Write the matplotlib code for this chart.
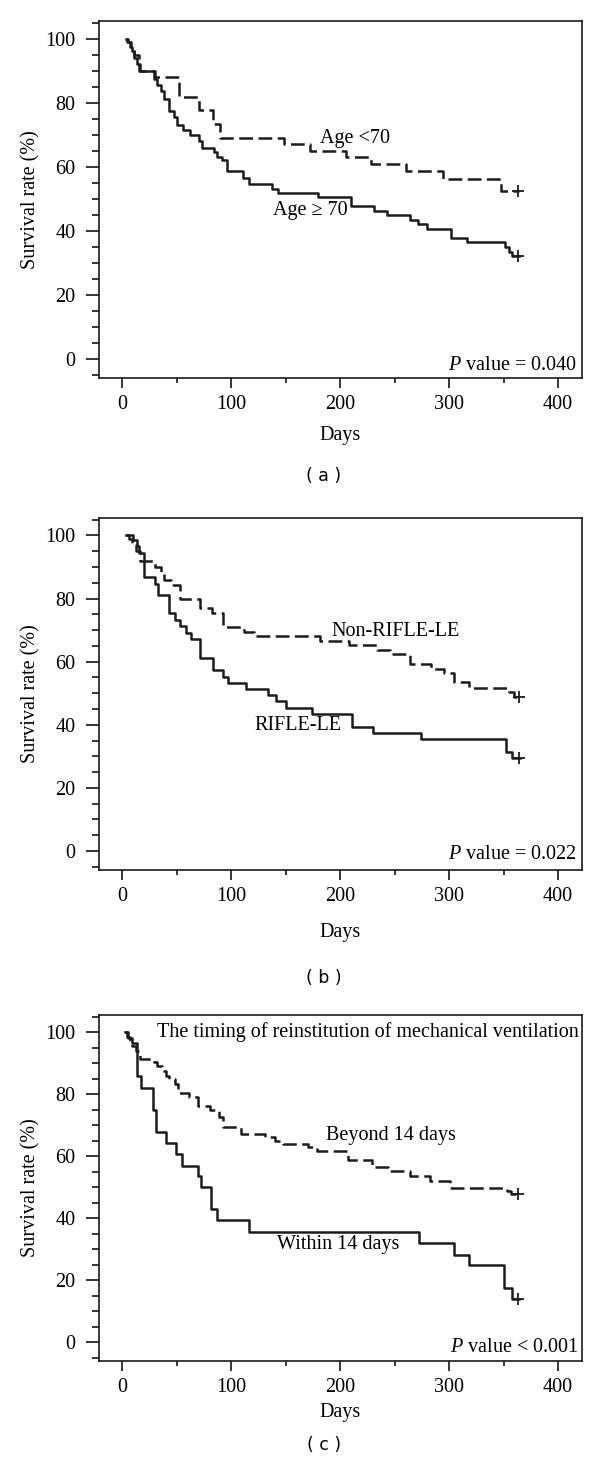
import matplotlib
matplotlib.use("Agg")
import matplotlib.pyplot as plt
from matplotlib.ticker import MultipleLocator

plt.rcParams['font.family'] = ['Liberation Serif', 'DejaVu Serif']
plt.rcParams['mathtext.fontset'] = 'custom'
plt.rcParams['mathtext.rm'] = 'Liberation Serif'
plt.rcParams['mathtext.it'] = 'Liberation Serif:italic'

# ---- data ----
# panel (a)
age_young_days = [3, 5, 8, 11, 15, 30, 52, 70, 83, 90, 148, 172, 205, 228, 260, 294, 348]
age_young_surv = [100, 99, 97, 95, 90, 88, 81.7, 77.6, 73.4, 69.1, 67.1, 65, 63, 60.8, 58.7, 56.3, 52.4]
age_old_days = [3, 4, 7, 9, 11, 13, 16, 29, 32, 35, 38, 43, 47, 50, 56, 62, 70, 73, 84, 87, 91, 96,
                111, 116, 137, 143, 180, 210, 231, 243, 264, 271, 280, 302, 316, 351, 355, 358]
age_old_surv = [100, 99, 97.5, 96, 94, 92, 90, 87.5, 85.5, 83.5, 81, 77.5, 75.5, 73, 71.5, 70, 68, 65.8,
                64.6, 63, 62, 58.8, 56.6, 54.5, 53, 51.8, 50.4, 47.6, 46.1, 44.8, 43.2, 42, 40.4, 37.8,
                36.6, 34.9, 33.3, 32]
end_a = 364

# panel (b)
nonrifle_days = [3, 6, 9, 12, 16, 30, 35, 38, 45, 53, 71, 82, 92, 112, 121, 181, 208, 234, 246, 264,
                 283, 295, 304, 318, 355, 360]
nonrifle_surv = [100, 99, 97, 95, 92, 90, 88, 86, 84.2, 80, 77, 75.5, 71, 69.5, 68, 66.6, 65.2, 63.7,
                 62.3, 59.4, 57.8, 56.3, 53.4, 51.8, 50.4, 48.8]
rifle_days = [3, 10, 13, 15, 20, 30, 33, 43, 48, 53, 58, 63, 71, 83, 92, 97, 113, 134, 141, 150, 174,
              211, 230, 274, 352, 358]
rifle_surv = [100, 98.6, 96.5, 94.5, 86.8, 84.7, 81, 75.3, 73.3, 71.3, 69.2, 67.1, 61.2, 57.3, 55.2,
              53.3, 51.3, 49.3, 47.4, 45.4, 43.4, 39.4, 37.3, 35.4, 31.4, 29.6]
end_b = 365

# panel (c)
beyond_days = [2, 4, 7, 9, 12, 16, 29, 32, 36, 40, 43, 48, 51, 61, 69, 80, 89, 92, 109, 131, 140, 147,
               170, 179, 207, 229, 244, 264, 282, 301, 353, 357]
beyond_surv = [100, 98.5, 97, 95.5, 94, 91.4, 90.5, 89, 87.5, 86, 85, 83.3, 80.5, 79.2, 76.1, 74.8,
               72.5, 69.5, 67.3, 66.3, 65, 64, 63, 61.8, 58.8, 56.6, 55.3, 53.6, 52.1, 49.9, 48.7, 47.8]
within_days = [2, 5, 9, 13, 17, 28, 31, 40, 49, 55, 69, 72, 81, 87, 116, 272, 304, 318, 350, 358]
within_surv = [100, 98, 96.5, 85.7, 82, 75, 67.8, 64.2, 60.6, 57, 53.5, 50, 43, 39.4, 35.7, 31.9,
               28.2, 24.8, 17.5, 14]
end_c = 364

line_col = '#1c1c1c'
fs = 14.5


def km(ax, days, surv, end, dashed):
    t = list(days) + [end]
    s = list(surv) + [surv[-1]]
    ls = (0, (5.5, 2.2)) if dashed else '-'
    ax.step(t, s, where='post', color=line_col, lw=1.8, linestyle=ls)
    ax.plot([end - 1], [surv[-1]], marker='+', ms=8, mew=1.3, color=line_col)


def style(ax, xlab_y):
    ax.set_xlim(-22, 422)
    ax.set_ylim(-6, 105.5)
    ax.xaxis.set_major_locator(MultipleLocator(100))
    ax.xaxis.set_minor_locator(MultipleLocator(50))
    ax.yaxis.set_major_locator(MultipleLocator(20))
    ax.yaxis.set_minor_locator(MultipleLocator(5))
    ax.tick_params(axis='y', which='major', length=9.5, width=1.1, pad=7, labelsize=fs)
    ax.tick_params(axis='y', which='minor', length=4.7, width=1.1)
    ax.tick_params(axis='x', which='major', length=7, width=1.1, pad=5, labelsize=fs)
    ax.tick_params(axis='x', which='minor', length=3.6, width=1.1)
    for sp in ax.spines.values():
        sp.set_linewidth(1.2)
        sp.set_color('#1a1a1a')
    ax.set_ylabel('Survival rate (%)', fontsize=fs)
    ax.set_xlabel('Days', fontsize=fs)
    ax.yaxis.set_label_coords(-0.119, 0.5)
    ax.xaxis.set_label_coords(0.5, xlab_y)


fig = plt.figure(figsize=(6, 14.72), dpi=100)
W, H = 600.0, 1472.0
boxes = [(21, 378), (518, 870), (1015, 1361)]
axes = []
for top, bot in boxes:
    axes.append(fig.add_axes([98.5 / W, 1 - bot / H, (582 - 98.5) / W, (bot - top) / H]))

# (a)
ax = axes[0]
km(ax, age_young_days, age_young_surv, end_a, True)
km(ax, age_old_days, age_old_surv, end_a, False)
style(ax, -0.134)
ax.text(181, 68.8, 'Age <70', fontsize=fs, va='center', ha='left')
ax.text(138, 46.3, 'Age \u2265 70', fontsize=fs, va='center', ha='left')
ax.text(417, -2, r'$\it{P}$ value = 0.040', fontsize=fs, va='center', ha='right')

# (b)
ax = axes[1]
km(ax, nonrifle_days, nonrifle_surv, end_b, True)
km(ax, rifle_days, rifle_surv, end_b, False)
style(ax, -0.15)
ax.text(192, 69.7, 'Non-RIFLE-LE', fontsize=fs, va='center', ha='left')
ax.text(121, 39.7, 'RIFLE-LE', fontsize=fs, va='center', ha='left')
ax.text(417, -1, r'$\it{P}$ value = 0.022', fontsize=fs, va='center', ha='right')

# (c)
ax = axes[2]
km(ax, beyond_days, beyond_surv, end_c, True)
km(ax, within_days, within_surv, end_c, False)
style(ax, -0.12)
ax.text(419, 100, 'The timing of reinstitution of mechanical ventilation', fontsize=fs,
        va='center', ha='right')
ax.text(187, 66.8, 'Beyond 14 days', fontsize=fs, va='center', ha='left')
ax.text(142, 31.4, 'Within 14 days', fontsize=fs, va='center', ha='left')
ax.text(419, -1.6, r'$\it{P}$ value < 0.001', fontsize=fs, va='center', ha='right')

for lab, yc in [('( a )', 476), ('( b )', 978), ('( c )', 1445)]:
    fig.text(324 / W, 1 - yc / H, lab, ha='center', va='center', fontsize=12.5,
             family='DejaVu Sans')

fig.savefig('out.png', dpi=100)
